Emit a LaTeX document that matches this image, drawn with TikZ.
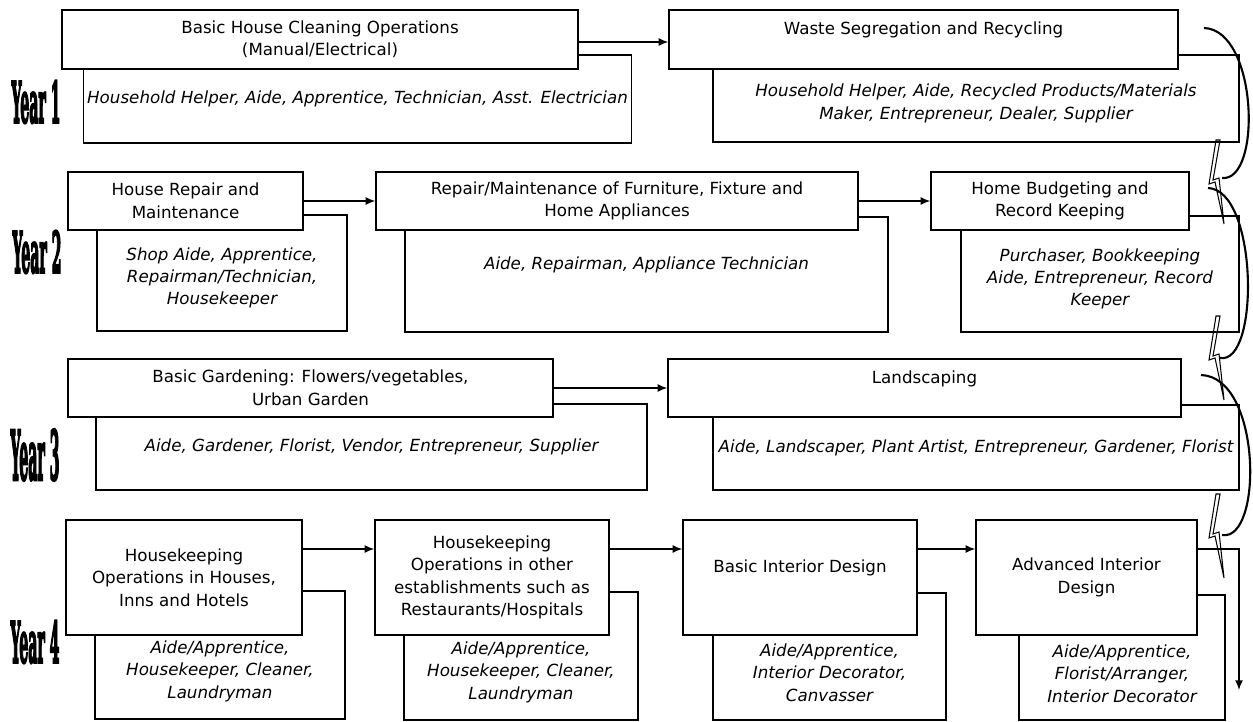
\documentclass[tikz,border=0pt]{standalone}
\usepackage{fontspec}
\setmainfont{DejaVu Sans}
\newfontfamily\yearfont{DejaVu Serif}[BoldFeatures={FakeBold=5}]
\usetikzlibrary{arrows.meta}

\begin{document}
\begin{tikzpicture}[x=0.02cm, y=-0.02cm,
    every node/.style={font=\fontsize{9.5}{12.8}\selectfont},
    topbox/.style={draw, fill=white, line width=0.8pt, align=center, inner sep=2pt},
    jobbox/.style={draw, fill=white, line width=0.8pt, align=center, inner sep=2pt,
        font=\fontsize{9.5}{12.8}\selectfont\itshape},
    yearlbl/.style={font=\yearfont\bfseries\fontsize{32}{32}\selectfont, inner sep=0pt},
    flow/.style={-{Latex[length=5.5pt,width=4.5pt]}, line width=0.8pt},
    turn/.style={line width=1.2pt},
    bolt/.style={line width=0.6pt}]
    \useasboundingbox (0,0) rectangle (1253,722);

    % Year labels
    \node[yearlbl] (y1) at (36,102) {\scalebox{0.25}[1]{Year 1}};
    \node[yearlbl] (y2) at (37,252) {\scalebox{0.25}[1]{Year 2}};
    \node[yearlbl] (y3) at (35,455) {\scalebox{0.25}[1.2]{Year 3}};
    \node[yearlbl] (y4) at (35,642) {\scalebox{0.25}[1]{Year 4}};

    % Year 1
    \node[jobbox, minimum width=10.7cm, minimum height=1.76cm] (a1j) at (357.5,99)
        {Household Helper, Aide, Apprentice, Technician, Asst. Electrician};
    \node[topbox, minimum width=10.32cm, minimum height=1.18cm] (a1) at (320,39.5)
        {Basic House Cleaning Operations\\(Manual/Electrical)};
    \node[jobbox, minimum width=10.52cm, minimum height=1.74cm] (b1j) at (976,98.5)
        {~\\Household Helper, Aide, Recycled Products/Materials\\Maker, Entrepreneur, Dealer, Supplier};
    \node[topbox, minimum width=10.18cm, minimum height=1.18cm] (b1) at (923.5,39.5)
        {Waste Segregation and Recycling\\~};

    % Year 2
    \node[jobbox, minimum width=5cm, minimum height=2.32cm] (c1j) at (222,273)
        {~\\Shop Aide, Apprentice,\\Repairman/Technician,\\Housekeeper};
    \node[topbox, minimum width=4.7cm, minimum height=1.16cm] (c1) at (185.5,201)
        {House Repair and\\Maintenance};
    \node[jobbox, minimum width=9.66cm, minimum height=2.3cm] (c2j) at (646.5,274.5)
        {Aide, Repairman, Appliance Technician\\~};
    \node[topbox, minimum width=9.64cm, minimum height=1.16cm] (c2) at (617,201)
        {Repair/Maintenance of Furniture, Fixture and\\Home Appliances};
    \node[jobbox, minimum width=5.56cm, minimum height=2.32cm] (c3j) at (1100,274)
        {~\\Purchaser, Bookkeeping\\Aide, Entrepreneur, Record\\Keeper};
    \node[topbox, minimum width=5.16cm, minimum height=1.16cm] (c3) at (1060,201)
        {Home Budgeting and\\Record Keeping};

    % Year 3
    \node[jobbox, minimum width=11.02cm, minimum height=1.72cm] (e1j) at (371.5,447)
        {Aide, Gardener, Florist, Vendor, Entrepreneur, Supplier};
    \node[topbox, minimum width=9.7cm, minimum height=1.16cm] (e1) at (310.5,388)
        {Basic Gardening: Flowers/vegetables,\\Urban Garden};
    \node[jobbox, minimum width=10.52cm, minimum height=1.7cm] (e2j) at (976,447.5)
        {Aide, Landscaper, Plant Artist, Entrepreneur, Gardener, Florist};
    \node[topbox, minimum width=10.26cm, minimum height=1.16cm] (e2) at (924.5,388)
        {Landscaping\\~};

    % Year 4
    \node[jobbox, minimum width=5cm, minimum height=2.56cm] (d1j) at (220,655)
        {~\\~\\Aide/Apprentice,\\Housekeeper, Cleaner,\\Laundryman};
    \node[topbox, minimum width=4.72cm, minimum height=2.3cm] (d1) at (184,577.5)
        {Housekeeping\\Operations in Houses,\\Inns and Hotels};
    \node[jobbox, minimum width=4.68cm, minimum height=2.56cm] (d2j) at (521,656)
        {~\\~\\Aide/Apprentice,\\Housekeeper, Cleaner,\\Laundryman};
    \node[topbox, minimum width=4.68cm, minimum height=2.3cm] (d2) at (492,577.5)
        {Housekeeping\\Operations in other\\establishments such as\\Restaurants/Hospitals};
    \node[jobbox, minimum width=4.66cm, minimum height=2.54cm] (d3j) at (829.5,656.5)
        {~\\~\\Aide/Apprentice,\\Interior Decorator,\\Canvasser};
    \node[topbox, minimum width=4.68cm, minimum height=2.3cm] (d3) at (800,577.5)
        {Basic Interior Design\\~};
    \node[jobbox, minimum width=4.12cm, minimum height=2.5cm] (d4j) at (1122,657.5)
        {~\\~\\Aide/Apprentice,\\Florist/Arranger,\\Interior Decorator};
    \node[topbox, minimum width=4.42cm, minimum height=2.3cm] (d4) at (1086.5,577.5)
        {Advanced Interior\\Design};

    % Arrows within a year
    \draw[flow] ([yshift=-0.05cm]a1.east) -- ([yshift=-0.05cm]b1.west);
    \draw[flow] (c1) -- (c2);
    \draw[flow] (c2) -- (c3);
    \draw[flow] (e1) -- (e2);
    \draw[flow] ([yshift=0.57cm]d1.east) -- ([yshift=0.57cm]d2.west);
    \draw[flow] ([yshift=0.57cm]d2.east) -- ([yshift=0.57cm]d3.west);
    \draw[flow] ([yshift=0.57cm]d3.east) -- ([yshift=0.57cm]d4.west);
    \coordinate (dend) at (1239,690);
    \draw[flow] ([yshift=0.57cm]d4.east) -| (dend);

    % Turns to the next year
    \coordinate (t1s) at (1204,28);
    \coordinate (t1e) at (1222,178);
    \coordinate (t2s) at (1208,188);
    \coordinate (t2e) at (1220,358);
    \coordinate (t3s) at (1201,375);
    \coordinate (t3e) at (1222,535);
    \draw[turn] (t1s) .. controls (1258,30) and (1262,182) .. (t1e);
    \draw[turn] (t2s) .. controls (1258,190) and (1260,365) .. (t2e);
    \draw[turn] (t3s) .. controls (1262,377) and (1263,542) .. (t3e);

    % Bolts between years
    \coordinate (z1) at (1218,140);
    \coordinate (z2) at (1218,316);
    \coordinate (z3) at (1218,494);
    \foreach \z in {z1,z2,z3}
        \draw[bolt] ([shift={(-2,0)}]\z) -- ++(-7,44) -- ++(6,-2) -- ++(9,42)
            -- ++(-5,-46) -- ++(-6,2) -- ++(7,-40) -- cycle;
\end{tikzpicture}
\end{document}
